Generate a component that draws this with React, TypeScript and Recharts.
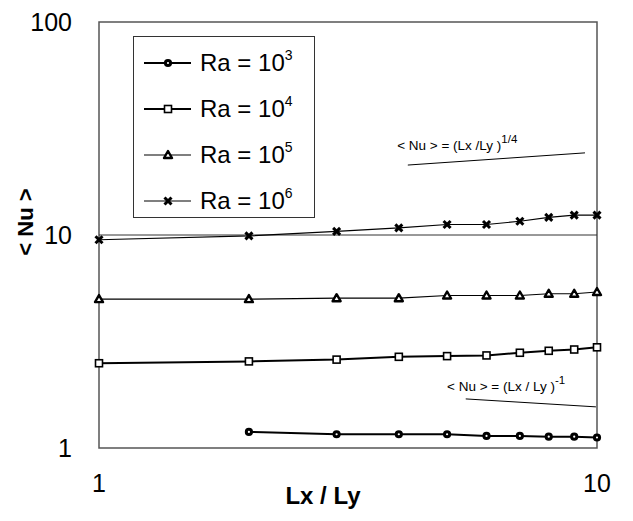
import React from "react";
import {
  LineChart,
  Line,
  XAxis,
  YAxis,
  Legend,
  ReferenceLine,
  ReferenceArea,
  ReferenceDot,
} from "recharts";

const LX = [1, 2, 3, 4, 5, 6, 7, 8, 9, 10];
const NU_RA3 = [null, 1.19, 1.16, 1.16, 1.16, 1.14, 1.14, 1.13, 1.13, 1.12];
const NU_RA4 = [2.5, 2.55, 2.6, 2.68, 2.7, 2.72, 2.8, 2.86, 2.9, 2.97];
const NU_RA5 = [5.0, 5.0, 5.05, 5.05, 5.2, 5.2, 5.2, 5.3, 5.3, 5.4];
const NU_RA6 = [9.5, 9.9, 10.4, 10.8, 11.2, 11.2, 11.6, 12.1, 12.4, 12.4];

const SERIES = [
  { key: "ra3", exp: "3", marker: "circle", width: 2 },
  { key: "ra4", exp: "4", marker: "square", width: 2 },
  { key: "ra5", exp: "5", marker: "triangle", width: 1.2 },
  { key: "ra6", exp: "6", marker: "cross", width: 1.2 },
];

const X_TICKS = [1, 10];
const Y_TICKS = [1, 10, 100];

// slope guides drawn in the upper right and lower right
const GUIDE_QUARTER = [
  { x: 4.17, y: 21.3 },
  { x: 9.46, y: 24.3 },
];
const GUIDE_INVERSE = [
  { x: 5.45, y: 1.7 },
  { x: 9.95, y: 1.56 },
];
const NOTE_QUARTER = { x: 3.97, y: 25.1, exp: "1/4", text: "< Nu > = (Lx /Ly )" };
const NOTE_INVERSE = { x: 5.0, y: 1.85, exp: "-1", text: "< Nu > = (Lx / Ly )" };

const data = LX.map((x, i) => ({
  x,
  ra3: NU_RA3[i],
  ra4: NU_RA4[i],
  ra5: NU_RA5[i],
  ra6: NU_RA6[i],
}));

const FONT = '"Liberation Sans", Arial, sans-serif';

const Marker = ({ type, cx, cy }: { type: string; cx: number; cy: number }) => {
  if (cx == null || cy == null || isNaN(cx) || isNaN(cy)) return null;
  if (type === "circle")
    return <circle cx={cx} cy={cy} r={2.6} fill="#fff" stroke="#000" strokeWidth={3} />;
  if (type === "square")
    return (
      <rect x={cx - 3.5} y={cy - 3.5} width={7} height={7} fill="#fff" stroke="#000" strokeWidth={1.6} />
    );
  if (type === "triangle")
    return (
      <polygon
        points={`${cx},${cy - 4} ${cx + 4},${cy + 3} ${cx - 4},${cy + 3}`}
        fill="#fff"
        stroke="#000"
        strokeWidth={2.4}
        strokeLinejoin="round"
      />
    );
  return (
    <g stroke="#000" strokeWidth={3}>
      <line x1={cx - 3.5} y1={cy - 3.5} x2={cx + 3.5} y2={cy + 3.5} />
      <line x1={cx - 3.5} y1={cy + 3.5} x2={cx + 3.5} y2={cy - 3.5} />
    </g>
  );
};

const LegendBox = () => (
  <div
    style={{
      width: 182,
      height: 182,
      border: "1.5px solid #333",
      background: "#fff",
      fontFamily: FONT,
      boxSizing: "border-box",
      paddingTop: 3,
    }}
  >
    {SERIES.map((s) => (
      <div key={s.key} style={{ height: 46, display: "flex", alignItems: "center" }}>
        <svg width={66} height={20} style={{ flexShrink: 0 }}>
          <line x1={10} y1={10} x2={57} y2={10} stroke="#000" strokeWidth={s.width} />
          <Marker type={s.marker} cx={34} cy={10} />
        </svg>
        <span style={{ fontSize: 24, color: "#000", whiteSpace: "nowrap" }}>
          Ra = 10
          <span style={{ fontSize: 14, position: "relative", top: -11 }}>{s.exp}</span>
        </span>
      </div>
    ))}
  </div>
);

const Note = ({ viewBox, text, exp }: any) => {
  if (!viewBox) return null;
  return (
    <text x={viewBox.x} y={viewBox.y} fontSize={13.5} fontFamily={FONT} fill="#000">
      {text}
      <tspan fontSize={11.5} dy={-7}>
        {exp}
      </tspan>
    </text>
  );
};

const YTitle = ({ viewBox }: any) => {
  if (!viewBox) return null;
  const x = viewBox.x + 25;
  const y = viewBox.y + 200;
  return (
    <text
      x={x}
      y={y}
      transform={`rotate(-90 ${x} ${y})`}
      textAnchor="middle"
      dominantBaseline="central"
      fontSize={22}
      fontWeight="bold"
      fontFamily={FONT}
      fill="#000"
    >
      {"< Nu >"}
    </text>
  );
};

const XTitle = ({ viewBox }: any) => {
  if (!viewBox) return null;
  return (
    <text
      x={viewBox.x + viewBox.width / 2 - 25}
      y={viewBox.y + 56}
      textAnchor="middle"
      fontSize={24}
      fontWeight="bold"
      fontFamily={FONT}
      fill="#000"
    >
      Lx / Ly
    </text>
  );
};

export default function App() {
  return (
    <div style={{ position: "absolute", left: 0, top: 0, background: "#fff" }}>
      <LineChart
        width={633}
        height={521}
        data={data}
        margin={{ top: 22, right: 36, bottom: 23, left: 0 }}
      >
        <XAxis
          dataKey="x"
          type="number"
          scale="log"
          domain={[1, 10]}
          ticks={X_TICKS}
          height={50}
          tickLine={false}
          axisLine={false}
          tickSize={0}
          tickMargin={26}
          tick={{ fontSize: 25, fill: "#000", fontFamily: FONT }}
          label={<XTitle />}
        />
        <YAxis
          type="number"
          scale="log"
          domain={[1, 100]}
          ticks={Y_TICKS}
          allowDataOverflow
          width={99}
          tickLine={false}
          axisLine={false}
          tickSize={0}
          tickMargin={27}
          tick={{ fontSize: 25, fill: "#000", fontFamily: FONT }}
          label={<YTitle />}
        />
        <ReferenceArea x1={1} x2={10} y1={1} y2={100} fill="none" stroke="#555" strokeWidth={1.5} />
        <ReferenceLine y={10} stroke="#333" strokeWidth={1} />
        <ReferenceLine segment={GUIDE_QUARTER} stroke="#000" strokeWidth={1} />
        <ReferenceLine segment={GUIDE_INVERSE} stroke="#000" strokeWidth={1} />
        <ReferenceDot
          x={NOTE_QUARTER.x}
          y={NOTE_QUARTER.y}
          r={0}
          fill="none"
          stroke="none"
          label={<Note text={NOTE_QUARTER.text} exp={NOTE_QUARTER.exp} />}
        />
        <ReferenceDot
          x={NOTE_INVERSE.x}
          y={NOTE_INVERSE.y}
          r={0}
          fill="none"
          stroke="none"
          label={<Note text={NOTE_INVERSE.text} exp={NOTE_INVERSE.exp} />}
        />
        {SERIES.map((s) => (
          <Line
            key={s.key}
            dataKey={s.key}
            stroke="#000"
            strokeWidth={s.width}
            isAnimationActive={false}
            dot={(p: any) => <Marker key={`${s.key}-${p.index}`} type={s.marker} cx={p.cx} cy={p.cy} />}
            activeDot={false}
          />
        ))}
        <Legend
          layout="vertical"
          align="center"
          verticalAlign="middle"
          content={<LegendBox />}
          wrapperStyle={{ left: 133, top: 36, width: 182, height: 182 }}
        />
      </LineChart>
    </div>
  );
}
